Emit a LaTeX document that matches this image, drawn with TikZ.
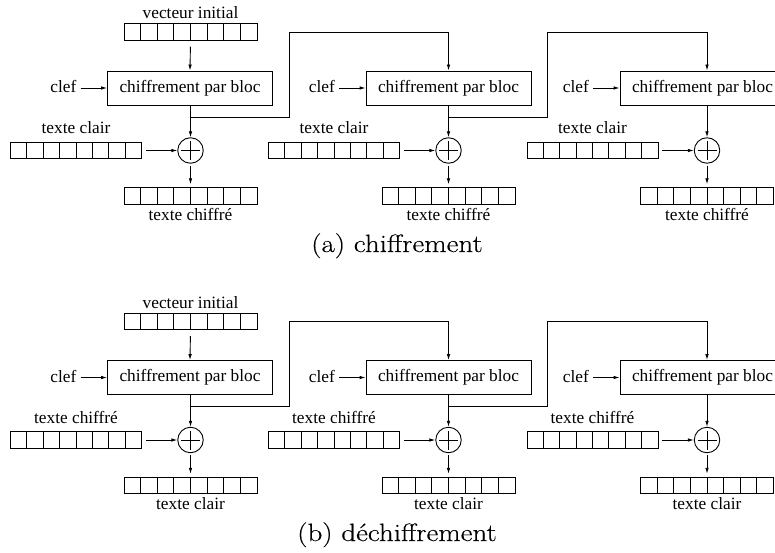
\documentclass[tikz,border=0pt]{standalone}
\usepackage{fontspec}
\newfontfamily\tms{Liberation Serif}
\newfontfamily\capfont[FakeBold=0.35]{Latin Modern Roman}
\usetikzlibrary{arrows.meta,calc}
\tikzset{
  ln/.style={line width=0.9pt},
  arr/.style={ln, -{Latex[length=6pt,width=3.6pt]}},
  reg/.style={draw, ln, inner sep=0pt, minimum height=16.5pt,
    path picture={\foreach \k in {1,...,7}{\draw[ln]
      ($(path picture bounding box.south west)!\k/8!(path picture bounding box.south east)$) --
      ($(path picture bounding box.north west)!\k/8!(path picture bounding box.north east)$);}}},
  blk/.style={draw, ln, minimum width=165pt, minimum height=34pt, inner sep=0pt,
    font=\tms\fontsize{17.3}{20}\selectfont},
  xorn/.style={circle, draw, ln, minimum size=25.5pt, inner sep=0pt,
    path picture={\draw[ln] ($(path picture bounding box.center)+(-9.5pt,0)$) -- ($(path picture bounding box.center)+(9.5pt,0)$);
                  \draw[ln] ($(path picture bounding box.center)+(0,-9.5pt)$) -- ($(path picture bounding box.center)+(0,9.5pt)$);}},
  lbl/.style={inner sep=0pt, font=\tms\fontsize{17.3}{20}\selectfont},
  capt/.style={inner sep=0pt, anchor=base, xscale=1.16, font=\capfont\fontsize{25}{29}\selectfont},
}
\begin{document}
\begin{tikzpicture}[x=1pt,y=-1pt]
\clip (0,0) rectangle (775,553);
\foreach \p/\o/\inl/\outl in {a/0/texte clair/texte chiffré, b/289.5/texte chiffré/texte clair}{
  % initial vector
  \node[reg, minimum width=133pt] (iv\p) at (190.5, 32+\o) {};
  \node[lbl, anchor=base] (ivl\p) at (190.5, 18.5+\o) {vecteur initial};
  \foreach \m/\c/\bx in {1/190.5/190, 2/448.5/448.5, 3/707/702.5}{
    \node[blk] (box\p\m) at (\bx, 88+\o) {chiffrement par bloc};
    \node[lbl, anchor=base east] (clef\p\m) at (\bx-82.5-31, 93+\o) {clef};
    \draw[arr, shorten <=4pt] (clef\p\m.east |- box\p\m.west) -- (box\p\m.west);
    \node[xorn] (xor\p\m) at (\c, 150.5+\o) {};
    \node[reg, minimum width=131pt] (in\p\m) at (\c-114.5, 150.5+\o) {};
    \node[lbl, anchor=base] (inl\p\m) at (\c-114.5, 134+\o) {\inl};
    \node[reg, minimum width=133pt] (out\p\m) at (\c, 196+\o) {};
    \node[lbl, anchor=base] (outl\p\m) at (\c, 220+\o) {\outl};
    \coordinate (br\p\m) at (\c, 117+\o);
    \coordinate (up\p\m) at (\c+98.5, 32+\o);
    \draw[arr] (box\p\m.south -| xor\p\m.north) -- (xor\p\m.north);
    \draw[arr, shorten <=4pt] (in\p\m.east) -- (xor\p\m.west);
    \draw[arr, shorten <=2pt, shorten >=3pt] (xor\p\m.south) -- (out\p\m.north);
  }
  \draw[arr, shorten <=6pt] (iv\p.south) -- (box\p1.north);
  \draw[arr] (br\p1) -| (up\p1) -| (xor\p2.north |- box\p2.north);
  \draw[arr] (br\p2) -| (up\p2) -| (xor\p3.north |- box\p3.north);
}
\node[capt] (capa) at (397, 252) {(a) chiffrement};
\node[capt] (capb) at (397, 541) {(b) déchiffrement};
\end{tikzpicture}
\end{document}
